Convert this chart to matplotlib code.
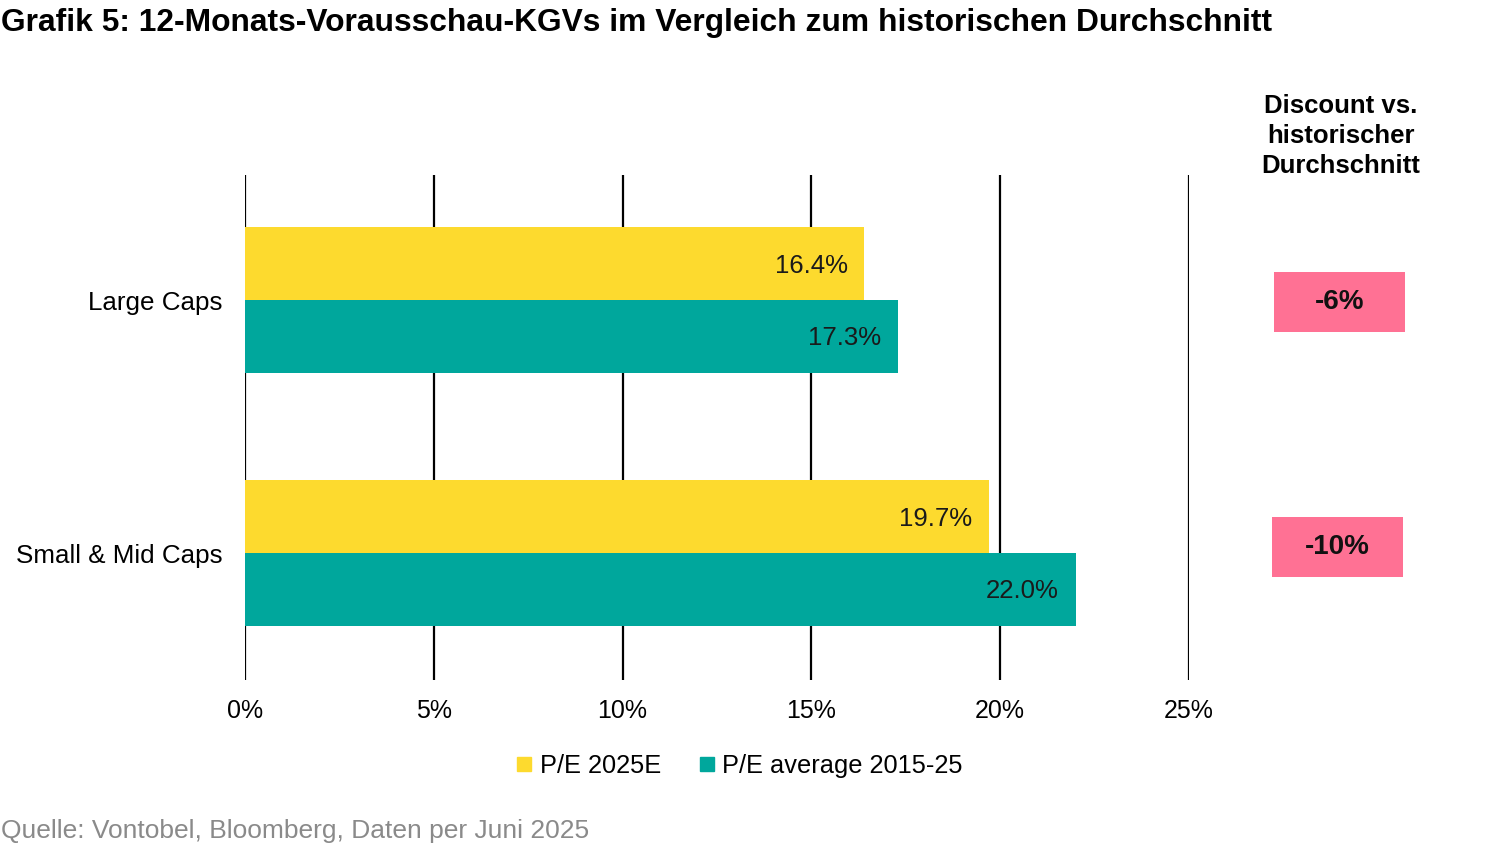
import matplotlib
matplotlib.use("Agg")
import matplotlib.pyplot as plt
from matplotlib.patches import Rectangle
from matplotlib.lines import Line2D
import numpy as np

plt.rcParams['font.family'] = ['Liberation Sans', 'DejaVu Sans']

# Daten
kategorien = ["Large Caps", "Small & Mid Caps"]
pe_2025e = [16.4, 19.7]
pe_avg = [17.3, 22.0]
discount = ["-6%", "-10%"]
x_ticks = [0, 5, 10, 15, 20, 25]

gelb = "#FDDA2E"
teal = "#00A79C"
pink = "#FF7194"

fig = plt.figure(figsize=(15, 8.46), dpi=100)
ax = fig.add_axes([0.1633, 0.1962, 0.6294, 0.5969])

y = np.arange(len(kategorien))
h = 0.287
ax.barh(y - h / 2, pe_2025e, height=h, color=gelb, zorder=2)
ax.barh(y + h / 2, pe_avg, height=h, color=teal, zorder=2)

# Werte in den Balken
for i in range(len(kategorien)):
    ax.annotate(f"{pe_2025e[i]:.1f}%", (pe_2025e[i], y[i] - h / 2), xytext=(-12, -1.5),
                textcoords="offset points", ha="right", va="center", fontsize=18.5, color="#1a1a1a", zorder=3)
    ax.annotate(f"{pe_avg[i]:.1f}%", (pe_avg[i], y[i] + h / 2), xytext=(-12, -1.5),
                textcoords="offset points", ha="right", va="center", fontsize=18.5, color="#1a1a1a", zorder=3)

ax.set_xlim(0, 25)
ax.set_ylim(1.502, -0.494)
ax.set_xticks(x_ticks)
ax.set_xticklabels([f"{t}%" for t in x_ticks], fontsize=18)
ax.set_yticks(y)
ax.set_yticklabels(kategorien, fontsize=18.7)
ax.tick_params(axis="x", length=0, pad=14)
ax.tick_params(axis="y", length=0, pad=16)
for s in ["top", "right", "bottom", "left"]:
    ax.spines[s].set_visible(False)
for t in x_ticks:
    ax.axvline(t, color="black", lw=1.6, zorder=1)

# Discount-Spalte
box_x = [29.0 - 1.74, 28.93 - 1.74]
box_y = [y[0] + 0.008, y[1] - 0.024]
for i, d in enumerate(discount):
    ax.add_patch(Rectangle((box_x[i], box_y[i] - 0.119), 3.47, 0.238, facecolor=pink,
                           edgecolor="none", clip_on=False, zorder=2))
    ax.text(box_x[i] + 1.735, box_y[i], d, ha="center", va="center", fontsize=20,
            fontweight="bold", color="#111111", clip_on=False)

fig.text(0.894, 0.8392, "Discount vs.\nhistorischer\nDurchschnitt", ha="center", va="center",
         multialignment="center", fontsize=18.5, fontweight="bold", linespacing=1.3)

# Titel und Quelle
fig.text(0.0005, 0.9725, "Grafik 5: 12-Monats-Vorausschau-KGVs im Vergleich zum historischen Durchschnitt",
         ha="left", va="center", fontsize=22.9, fontweight="bold")
fig.text(0.0005, 0.0177, "Quelle: Vontobel, Bloomberg, Daten per Juni 2025",
         ha="left", va="center", fontsize=19, color="#8a8a8a")

handles = [Line2D([], [], marker="s", ls="", color=gelb, markersize=10),
           Line2D([], [], marker="s", ls="", color=teal, markersize=10)]
fig.legend(handles, ["P/E 2025E", "P/E average 2015-25"], loc="center", bbox_to_anchor=(0.493, 0.0946),
           ncol=2, frameon=False, fontsize=18.3, handlelength=0.6, handletextpad=0.3, columnspacing=1.5)

fig.savefig("out.png", dpi=100)
